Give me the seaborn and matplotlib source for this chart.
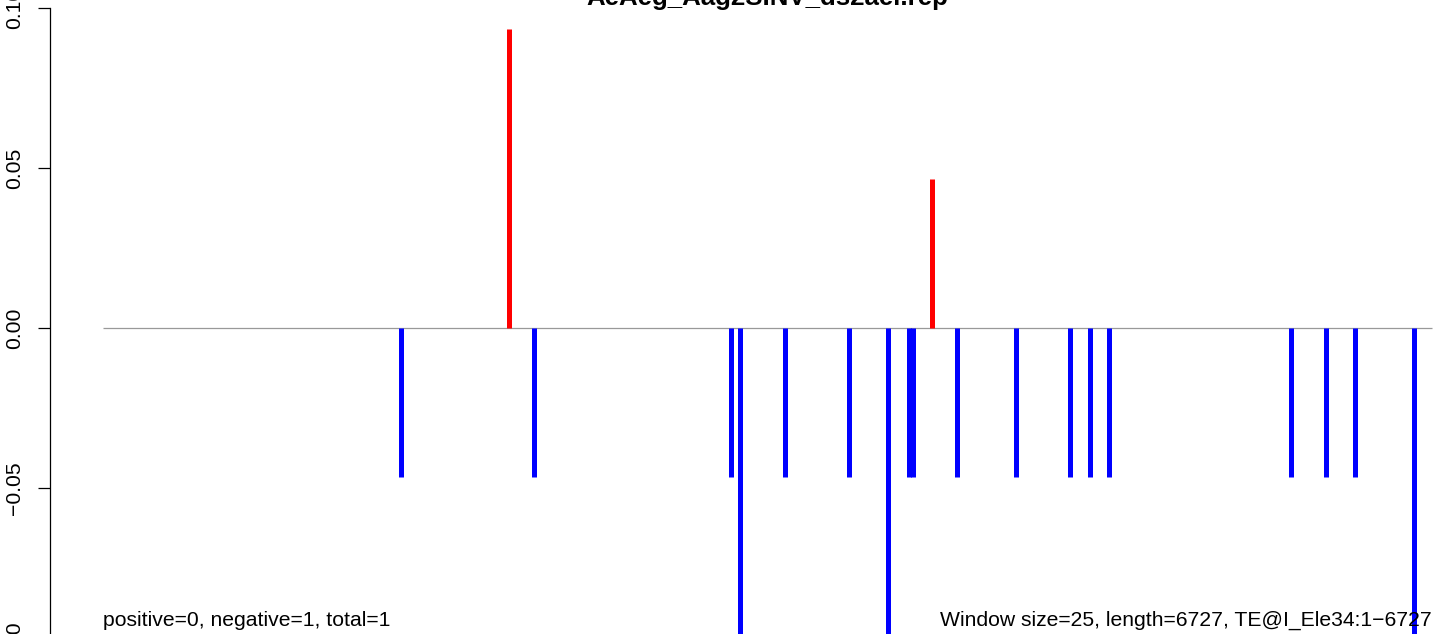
import matplotlib
matplotlib.use("Agg")
import matplotlib.pyplot as plt
import seaborn as sns

# window start positions (nt) and normalised counts
title = "AeAeg_Aag2SINV_ds2ael.rep"
seq_length = 6727
pos_positions = [2055, 4196]
pos_values = [0.0933, 0.0467]
neg_positions = [1509, 2181, 3178, 3224, 3452, 3775, 3973, 4079, 4102, 4325,
                 4623, 4894, 4995, 5093, 6012, 6190, 6336, 6635]
neg_values = [-0.0467, -0.0467, -0.0467, -0.14, -0.0467, -0.0467, -0.14, -0.0467, -0.0467, -0.0467,
              -0.0467, -0.0467, -0.0467, -0.0467, -0.0467, -0.0467, -0.0467, -0.14]
y_ticks = [-0.1, -0.05, 0.0, 0.05, 0.1]
y_tick_labels = ["\u22120.10", "\u22120.05", "0.00", "0.05", "0.10"]
left_note = "positive=0, negative=1, total=1"
right_note = "Window size=25, length=6727, TE@I_Ele34:1\u22126727"

sns.set_style("ticks")
plt.rcParams["font.family"] = ["Liberation Sans", "DejaVu Sans"]
plt.rcParams["text.color"] = "black"
plt.rcParams["axes.edgecolor"] = "black"

W, H = 1444, 634
fig = plt.figure(figsize=(W / 100, H / 100), dpi=100)
# plot region runs a little past the image edges, like the cropped original
ax = fig.add_axes([49.8 / W, -14 / H, (1485 - 49.8) / W, 640 / H])

pad = 0.04 * (seq_length - 1)
ax.set_xlim(1 - pad, seq_length + pad)
ax.set_ylim(-0.1, 0.1)

ax.hlines(0, 1, seq_length, color="#999999", linewidth=0.9, zorder=1)
ax.vlines(pos_positions, 0, pos_values, color="#FF0000", linewidth=3.6, zorder=2)
ax.vlines(neg_positions, 0, neg_values, color="#0000FF", linewidth=3.6, zorder=2)

# title centred on the plot region, mostly cut off by the top edge
fig.text((49.8 + 1485) / 2 / W, 1 - 5 / H, title, fontsize=18.6,
         fontweight="bold", ha="center", va="baseline", color="black")

ax.text(1, -0.0915, left_note, fontsize=15.2, ha="left", va="center", color="black")
ax.text(seq_length, -0.0915, right_note, fontsize=15.2, ha="right", va="center", color="black")

sns.despine(ax=ax, top=True, right=True, bottom=True)
ax.spines["left"].set_bounds(-0.1, 0.1)
ax.spines["left"].set_linewidth(0.9)
ax.spines["left"].set_color("black")
ax.set_xticks([])
ax.set_yticks(y_ticks)
ax.set_yticklabels(y_tick_labels, rotation=90, va="center", fontsize=15.2)
ax.tick_params(axis="y", length=8.5, width=0.9, pad=10, colors="black")

fig.savefig("out.png", dpi=100)
